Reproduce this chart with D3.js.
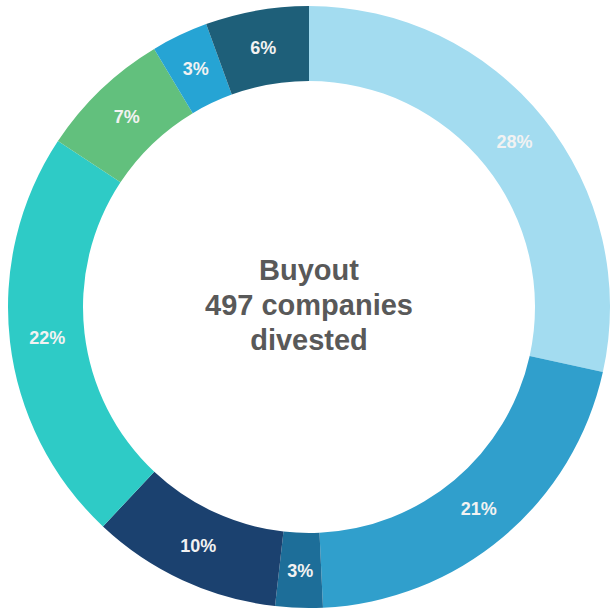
<!DOCTYPE html>
<html><head><meta charset="utf-8">
<script src="https://cdn.jsdelivr.net/npm/d3@7"></script>
<style>body{margin:0;background:#fff;}svg{display:block;} text{font-family:'Liberation Sans',Arial,sans-serif;font-weight:bold;}</style>
</head><body>
<script>
const labels = ["28%","21%","3%","10%","22%","7%","3%","6%"];
const values = [28.47,20.79,2.54,10.2,22.3,7.1,3.05,5.55];
const colors = ["#a3dcf0","#309fcc","#1d6e99","#1b416f","#2ecbc6","#62c07d","#26a4d4","#1e5f79"];
const centerLines = ["Buyout","497 companies","divested"];

const W=610,H=610,cx=309,cy=307,rO=301,rI=226;
const svg=d3.select("body").append("svg").attr("width",W).attr("height",H);
const g=svg.append("g").attr("transform",`translate(${cx},${cy})`);
const pie=d3.pie().sort(null).value(d=>d)(values);
const arc=d3.arc().innerRadius(rI).outerRadius(rO);
g.selectAll("path").data(pie).enter().append("path")
  .attr("d",arc).attr("fill",(d,i)=>colors[i]).attr("stroke","none");
g.selectAll("text.lab").data(pie).enter().append("text").attr("class","lab")
  .attr("transform",d=>`translate(${arc.centroid(d)})`)
  .attr("text-anchor","middle").attr("dy","0.35em")
  .attr("font-size",18).attr("fill","#f2f2f2").text((d,i)=>labels[i]);
g.selectAll("text.c").data(centerLines).enter().append("text").attr("class","c")
  .attr("x",0).attr("y",(d,i)=>(i-1)*35-2).attr("dy","0.35em")
  .attr("text-anchor","middle")
  .attr("font-size",29).attr("fill","#595959").text(d=>d);
</script>
</body></html>
